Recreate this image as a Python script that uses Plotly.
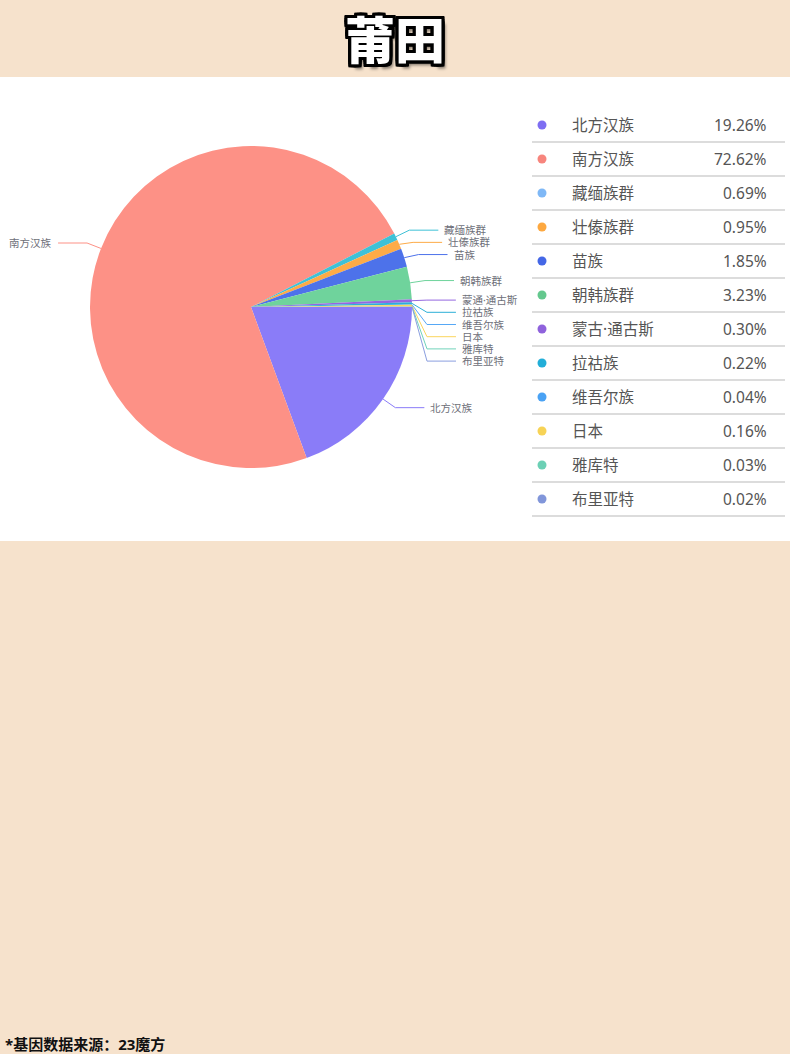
import math
import plotly.graph_objects as go

# ---------------- data ----------------
categories = ["北方汉族", "南方汉族", "藏缅族群", "壮傣族群", "苗族", "朝韩族群",
              "蒙古·通古斯", "拉祜族", "维吾尔族", "日本", "雅库特", "布里亚特"]
pie_labels = ["北方汉族", "南方汉族", "藏缅族群", "壮傣族群", "苗族", "朝韩族群",
              "蒙通·通古斯", "拉祜族", "维吾尔族", "日本", "雅库特", "布里亚特"]
values = [19.26, 72.62, 0.69, 0.95, 1.85, 3.23, 0.30, 0.22, 0.04, 0.16, 0.03, 0.02]
value_labels = ["19.26%", "72.62%", "0.69%", "0.95%", "1.85%", "3.23%",
                "0.30%", "0.22%", "0.04%", "0.16%", "0.03%", "0.02%"]
slice_colors = ["#8a7cf8", "#fd9186", "#3ec1d6", "#fdab47", "#4d72ea", "#6fd39c",
                "#9467e0", "#2cb0d8", "#56a8f6", "#fbd55e", "#70d3bb", "#8a9edf"]
dot_colors = ["#7e6ef2", "#f7857d", "#7fb8f6", "#fda840", "#4467e6", "#64c88e",
              "#8f62dc", "#22aed8", "#4aa2f4", "#f7d356", "#6cd0b5", "#8196da"]
title = "莆田"
footer = "*基因数据来源：23魔方"

# ---------------- layout constants ----------------
W, H = 790, 1054
CX, CY, R = 251, 307, 161
BG = "#f6e2cc"
FONT = "Noto Sans, Noto Sans CJK SC"
CJK = "Noto Sans CJK SC"

fig = go.Figure()

# pie (domain derived from pixel centre / radius)
fig.add_trace(go.Pie(
    labels=categories, values=values, sort=False, direction="clockwise",
    rotation=90, textinfo="none", hoverinfo="none", showlegend=False,
    marker=dict(colors=slice_colors, line=dict(width=0)),
    domain=dict(x=[(CX - R) / W, (CX + R) / W],
                y=[(H - CY - R) / H, (H - CY + R) / H]),
))

# ---------------- leader lines & labels ----------------
total = sum(values)
cum = 0.0
items = []
for i, v in enumerate(values):
    mid = 2 * math.pi * (cum + v / 2) / total
    cum += v
    c, s = math.cos(mid), math.sin(mid)
    ex, ey = CX + R * c, CY + R * s
    bx, by = CX + (R + 15) * c, CY + (R + 15) * s
    items.append(dict(i=i, c=c, ex=ex, ey=ey, bx=bx, by=by, ly=by))

# resolve overlaps on each side
for side in (1, -1):
    grp = sorted([it for it in items if (it["c"] >= 0) == (side == 1)], key=lambda d: d["by"])
    prev = -1e9
    for it in grp:
        it["ly"] = max(it["by"], prev + 12.2)
        prev = it["ly"]

annotations = []
for it in items:
    i = it["i"]
    right = it["c"] >= 0
    hx = it["bx"] + (29 if right else -29)
    fig.add_trace(go.Scatter(
        x=[it["ex"], it["bx"], hx], y=[it["ey"], it["ly"], it["ly"]],
        mode="lines", line=dict(color=slice_colors[i], width=1),
        hoverinfo="skip", showlegend=False))
    annotations.append(dict(
        x=hx + (4 if right else -4), y=it["ly"], xref="x", yref="y",
        text=pie_labels[i], showarrow=False,
        xanchor="left" if right else "right", yanchor="middle",
        font=dict(family=FONT, size=10.5, color="#6e7079")))

# ---------------- legend table ----------------
ROW0, ROWH = 125, 34
shapes = [
    dict(type="rect", xref="x", yref="y", x0=0, x1=W, y0=77, y1=541,
         fillcolor="white", line=dict(width=0), layer="below"),
]
for k, name in enumerate(categories):
    yc = ROW0 + k * ROWH
    annotations.append(dict(x=570, y=yc, xref="x", yref="y", text=name,
                            showarrow=False, xanchor="left", yanchor="middle",
                            font=dict(family=FONT, size=15.5, color="#555555")))
    annotations.append(dict(x=769, y=yc, xref="x", yref="y", text=value_labels[k],
                            showarrow=False, xanchor="right", yanchor="middle",
                            font=dict(family=FONT, size=15.5, color="#555555")))
    shapes.append(dict(type="line", xref="x", yref="y", x0=532, x1=785,
                       y0=yc + 17, y1=yc + 17, line=dict(color="#dcdcdc", width=2),
                       layer="below"))

fig.add_trace(go.Scatter(
    x=[542] * len(categories), y=[ROW0 + k * ROWH for k in range(len(categories))],
    mode="markers", marker=dict(color=dot_colors, size=9, line=dict(width=0)),
    hoverinfo="skip", showlegend=False))

# title
outline = ", ".join(f"{dx}px {dy}px 0 #000" for dx in (-3, -2, 0, 2, 3) for dy in (-3, -2, 0, 2, 3)
                    if not (dx == 0 and dy == 0))
annotations.append(dict(x=395, y=37, xref="x", yref="y", text=title, showarrow=False,
                        xanchor="center", yanchor="middle",
                        font=dict(family=CJK, size=50, color="white", weight=900,
                                  shadow=outline + ", 4px 5px 3px rgba(0,0,0,0.45)")))
# footer
annotations.append(dict(x=3, y=1044, xref="x", yref="y", text="<b>" + footer + "</b>",
                        showarrow=False, xanchor="left", yanchor="middle",
                        font=dict(family=FONT, size=15, color="#111111")))

fig.update_layout(
    width=W, height=H, margin=dict(l=0, r=0, t=0, b=0),
    paper_bgcolor=BG, plot_bgcolor="rgba(0,0,0,0)",
    xaxis=dict(range=[0, W], visible=False, fixedrange=True, domain=[0, 1]),
    yaxis=dict(range=[H, 0], visible=False, fixedrange=True, domain=[0, 1]),
    shapes=shapes, annotations=annotations, showlegend=False,
)

fig.write_html("out.html", config={"displayModeBar": False},
               post_script="document.body.style.margin='0';document.body.style.overflow='hidden';")
